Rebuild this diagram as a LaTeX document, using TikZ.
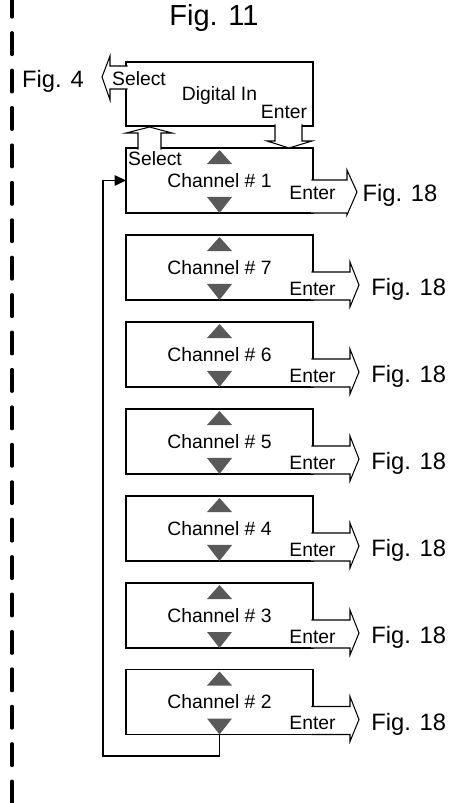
\documentclass[tikz,border=0pt]{standalone}
\usepackage{fontspec}
\setmainfont{Liberation Sans}
\usetikzlibrary{calc,arrows.meta}
\begin{document}
\begin{tikzpicture}[x=0.02cm, y=-0.02cm,
    box/.style={draw, line width=0.6pt, minimum width=3.74cm, minimum height=1.3cm,
      inner sep=0pt, outer sep=0pt, font=\fontsize{11}{13}\selectfont},
    blockarr/.style={draw, line width=0.6pt, preaction={fill=white}},
    tri/.style={fill=black!65},
    lbl/.style={font=\fontsize{11}{13}\selectfont, inner sep=0pt, anchor=base},
    fig/.style={font=\fontsize{13.5}{16}\selectfont, inner sep=0pt, anchor=base},
    loopline/.style={line width=0.6pt, -{Triangle[length=6.5pt,width=6pt]}},
    dashline/.style={line width=1.9pt, line cap=round, dash pattern=on 12.3pt off 9pt}]
  \useasboundingbox (0,0) rectangle (455,803);
  % dashed border on the left
  \draw[dashline] (12,-4.6) -- (12,803);
  \node[fig, font=\fontsize{16.5}{19}\selectfont] (title) at (214,26) {Fig. 11};
  % menu boxes
  \node[box, minimum height=1.28cm, text depth=0pt] (din) at (219.5,94) {Digital In};
  \node[box] (ch1) at (219.5,180.5) {Channel \# 1};
  \node[box] (ch7) at (219.5,267.5) {Channel \# 7};
  \node[box] (ch6) at (219.5,354.5) {Channel \# 6};
  \node[box] (ch5) at (219.5,441.5) {Channel \# 5};
  \node[box] (ch4) at (219.5,528.5) {Channel \# 4};
  \node[box] (ch3) at (219.5,615.5) {Channel \# 3};
  \node[box] (ch2) at (219.5,702) {Channel \# 2};
  % up and down keys
  \foreach \n in {ch1,ch7,ch6,ch5,ch4,ch3,ch2} {
    \fill[tri] ($(\n.north)+(0,2)$) -- ++(-12.5,14) -- ++(25,0) -- cycle;
    \fill[tri] (\n.south) -- ++(-12.5,-16) -- ++(25,0) -- cycle;
  }
  % block arrows
  \draw[blockarr] ($(din.north west)+(1.5,4)$) -- ++(-17.5,0) -- ++(0,-10) -- ++(-8,21)
    -- ++(8,23) -- ++(0,-11) -- ($(din.north west)+(1.5,27)$);
  \draw[blockarr] ($(din.south east)+(-38,-1.5)$) -- ++(0,16.5) -- ++(-8,0) -- ++(22,7)
    -- ++(23,-7) -- ++(-10,0) -- ($(din.south east)+(-11,-1.5)$);
  \draw[blockarr] ($(ch1.north west)+(12,1.5)$) -- ++(0,-16.5) -- ++(-12,0) -- ++(23.5,-6)
    -- ++(22.5,6) -- ++(-11,0) -- ($(ch1.north west)+(35,1.5)$);
  \draw[blockarr] ($(ch1.north east)+(-1.5,32)$) -- ++(35.5,0) -- ++(0,-10) -- ++(10,22)
    -- ++(-10,23) -- ++(0,-2) -- ($(ch1.south east)+(-1.5,0)$);
  \foreach \n in {ch7,ch6,ch5,ch4,ch3,ch2}
    \draw[blockarr] ($(\n.north east)+(-1.5,37)$) -- ++(38.5,0) -- ++(0,-10) -- ++(9,23)
      -- ++(-9,22) -- ++(0,-7) -- ($(\n.south east)+(-1.5,0)$);
  % wrap-around from the last channel
  \coordinate (loopc) at (103,756);
  \draw[loopline] (ch2.south) |- (loopc) |- (ch1.west);
  % key labels
  \node[fig] (fig4) at (53,87.5) {Fig. 4};
  \node[lbl] (selin) at (139,86) {Select};
  \node[lbl] (entin) at (284,119) {Enter};
  \node[lbl] (selch) at (155,166) {Select};
  \node[lbl] (ent-ch1) at (312.5,199.3) {Enter};
  \node[fig] (fig-ch1) at (400,201.5) {Fig. 18};
  \foreach \n in {ch7,ch6,ch5,ch4,ch3,ch2} {
    \node[lbl] (ent-\n) at ($(\n.north east)+(-0.5,60)$) {Enter};
    \node[fig] (fig-\n) at ($(\n.north east)+(95.7,60.7)$) {Fig. 18};
  }
\end{tikzpicture}
\end{document}
